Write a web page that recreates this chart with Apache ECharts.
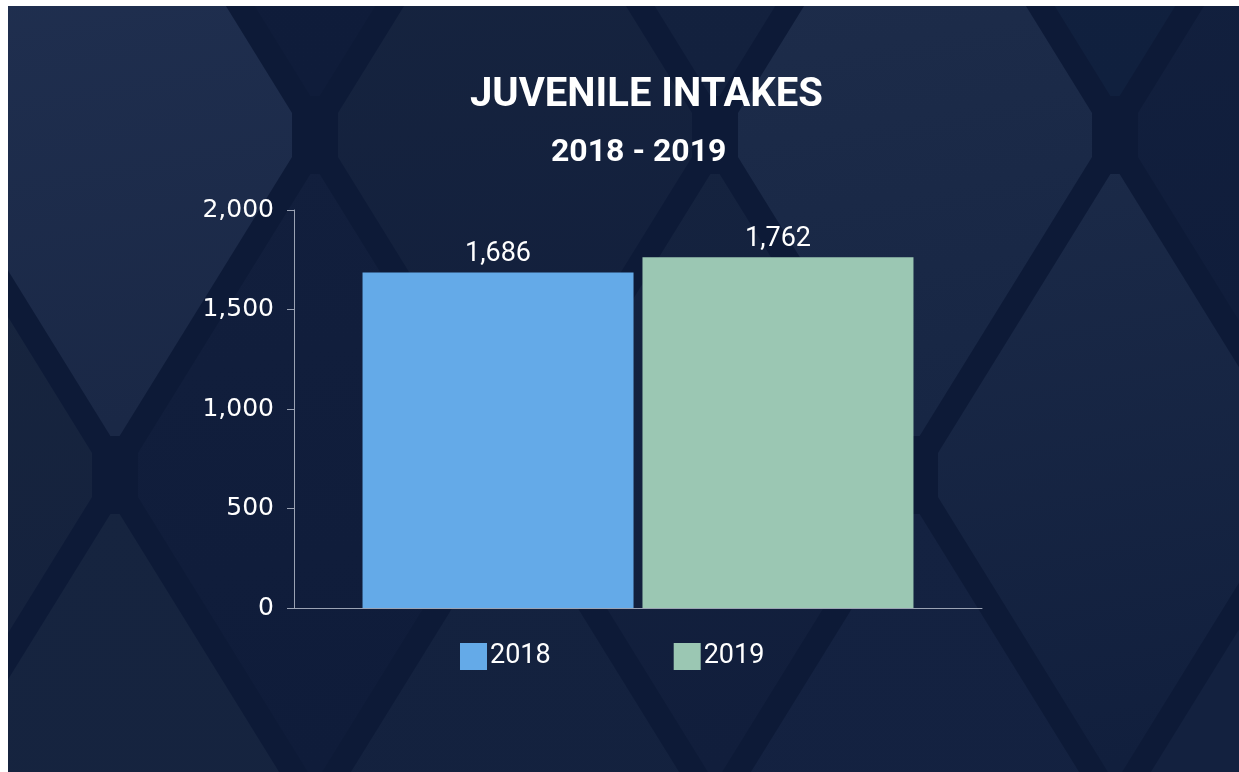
<!DOCTYPE html>
<html>
<head>
<meta charset="utf-8">
<script src="https://cdn.jsdelivr.net/npm/echarts@6/dist/echarts.min.js"></script>
<style>
  html, body { margin: 0; padding: 0; background: #ffffff; }
  #chart { width: 1239px; height: 772px; }
</style>
</head>
<body>
<div id="chart"></div>
<script>
// ---- Data ----
const categories = ['Juvenile Intakes'];
const seriesNames = ['2018', '2019'];
const values2018 = [1686];
const values2019 = [1762];
const yTicks = [0, 500, 1000, 1500, 2000];
const titleText = 'JUVENILE INTAKES';
const subtitleText = '2018 - 2019';

function fmt(n) { return String(n).replace(/\B(?=(\d{3})+(?!\d))/g, ','); }

// ---- Decorative diamond background ----
const diamonds = [
  // [cx, cy, topColor, bottomColor]
  [115, 135, '#213152', '#1a2846'],
  [515, 135, '#172540', '#121f3c'],
  [915, 135, '#1f2e4c', '#172644'],
  [1315, 135, '#13213f', '#0f1c3a'],
  [-85, 475, '#18263f', '#14213d'],
  [315, 475, '#121f3d', '#0f1c3a'],
  [715, 475, '#15233f', '#111e3c'],
  [1115, 475, '#1b2a48', '#111f3d'],
  [-85, -205, '#1b2a48', '#1b2a48'],
  [315, -205, '#101d3b', '#0f1c3a'],
  [715, -205, '#14223f', '#13213e'],
  [1115, -205, '#13213f', '#10203e'],
  [115, 815, '#16243f', '#15233f'],
  [515, 815, '#14223f', '#13213e'],
  [915, 815, '#142241', '#132140'],
  [1315, 815, '#13213f', '#13213f']
];
const HW = 200, HH = 340, GAP = 10;
const graphics = [];
graphics.push({ type: 'rect', z: -20, shape: { x: 0, y: 0, width: 1239, height: 772 }, style: { fill: '#0d1a37' } });
diamonds.forEach(d => {
  const cx = d[0], cy = d[1];
  const hw = HW - GAP, hh = HH - GAP * 1.7;
  const cutY = 22, cutX = 13;
  const pts = [
    [cx - cutX * hw / hh * 0.6, cy - hh + cutY], [cx + cutX * hw / hh * 0.6, cy - hh + cutY],
    [cx + hw - cutX, cy - cutX * hh / hw], [cx + hw - cutX, cy + cutX * hh / hw],
    [cx + cutX * hw / hh * 0.6, cy + hh - cutY], [cx - cutX * hw / hh * 0.6, cy + hh - cutY],
    [cx - hw + cutX, cy + cutX * hh / hw], [cx - hw + cutX, cy - cutX * hh / hw]
  ];
  graphics.push({
    type: 'polygon', z: -10, shape: { points: pts },
    style: {
      fill: new echarts.graphic.LinearGradient(0, 0, 0.3, 1, [
        { offset: 0, color: d[2] }, { offset: 1, color: d[3] }
      ])
    }
  });
});
// white page margins
graphics.push({ type: 'rect', z: 100, shape: { x: 0, y: 0, width: 8, height: 772 }, style: { fill: '#ffffff' } });
graphics.push({ type: 'rect', z: 100, shape: { x: 0, y: 0, width: 1239, height: 6 }, style: { fill: '#ffffff' } });

const chart = echarts.init(document.getElementById('chart'));
const valueLabel = {
  show: true, position: 'top', distance: 5, color: '#ffffff',
  fontFamily: 'Roboto', fontSize: 27,
  formatter: p => fmt(p.value)
};
chart.setOption({
  animation: false,
  backgroundColor: 'transparent',
  graphic: graphics,
  title: [
    { text: titleText, left: 465, top: 71,
      textStyle: { color: '#ffffff', fontFamily: 'Roboto', fontWeight: 'bold', fontSize: 40, lineHeight: 40 } },
    { text: subtitleText, left: 546, top: 131,
      textStyle: { color: '#ffffff', fontFamily: 'Roboto', fontWeight: 'bold', fontSize: 32, lineHeight: 34 } }
  ],
  legend: {
    data: seriesNames, left: 455, top: 638, itemWidth: 27, itemHeight: 27, itemGap: 123,
    icon: 'rect',
    textStyle: { color: '#ffffff', fontFamily: 'Roboto', fontSize: 27, padding: [0, 0, 0, -2] }
  },
  grid: { left: 294, right: 257, top: 210, bottom: 164, containLabel: false },
  xAxis: {
    type: 'category', data: categories,
    axisLine: { lineStyle: { color: '#9aa2b3', width: 1 } },
    axisTick: { show: false }, axisLabel: { show: false }
  },
  yAxis: {
    type: 'value', min: yTicks[0], max: yTicks[yTicks.length - 1], interval: yTicks[1] - yTicks[0],
    axisLine: { show: true, lineStyle: { color: '#9aa2b3', width: 1 } },
    axisTick: { show: true, length: 7, lineStyle: { color: '#9aa2b3' } },
    splitLine: { show: false },
    axisLabel: { color: '#ffffff', fontFamily: 'DejaVu Sans', fontSize: 25, margin: 20, formatter: v => fmt(v) }
  },
  series: [
    { name: seriesNames[0], type: 'bar', data: values2018, barWidth: 271, barGap: '3.3%',
      itemStyle: { color: '#64aae8' }, label: valueLabel },
    { name: seriesNames[1], type: 'bar', data: values2019, barWidth: 271,
      itemStyle: { color: '#9bc7b3' }, label: valueLabel }
  ]
});
</script>
</body>
</html>
